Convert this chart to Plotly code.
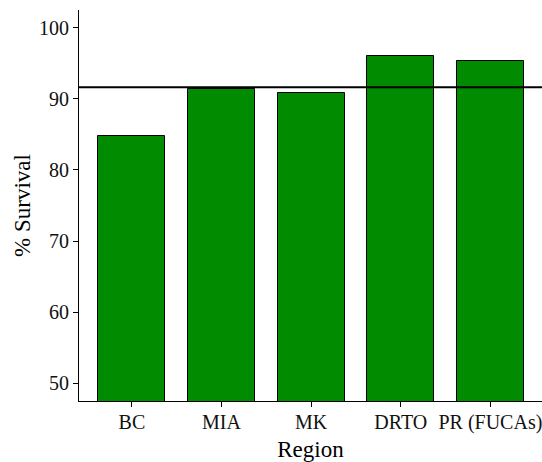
import plotly.graph_objects as go

# Survival by region
regions = ["BC", "MIA", "MK", "DRTO", "PR (FUCAs)"]
survival = [84.8, 91.4, 90.8, 96.0, 95.3]
overall_mean = 91.64
y_ticks = [50, 60, 70, 80, 90, 100]

SERIF = "Liberation Serif, Times New Roman, serif"

fig = go.Figure()
fig.add_trace(go.Bar(
    x=list(range(len(regions))),
    y=survival,
    width=0.75,
    marker=dict(color="#008B00", line=dict(color="black", width=1)),
    showlegend=False,
))

# overall mean reference line
fig.add_shape(type="line", xref="paper", x0=0, x1=1, yref="y",
              y0=overall_mean, y1=overall_mean,
              line=dict(color="black", width=2))

fig.update_layout(
    width=542, height=462,
    margin=dict(l=79, r=0, t=10, b=61),
    paper_bgcolor="white", plot_bgcolor="white",
    font=dict(family=SERIF, color="black"),
    bargap=0,
)
fig.update_xaxes(
    range=[-0.59, 4.576],
    tickmode="array", tickvals=list(range(len(regions))), ticktext=regions,
    showline=True, linecolor="black", linewidth=1,
    ticks="outside", ticklen=5, tickcolor="black",
    ticklabeloverflow="allow", ticklabelstandoff=-2,
    tickfont=dict(family=SERIF, size=20, color="#111"),
    title=dict(text="Region", font=dict(family=SERIF, size=23), standoff=8),
    showgrid=False, zeroline=False,
)
fig.update_yaxes(
    range=[47.5, 102.5],
    tickvals=y_ticks,
    showline=True, linecolor="black", linewidth=1,
    ticks="outside", ticklen=5, tickcolor="black",
    tickfont=dict(family=SERIF, size=20, color="#111"),
    title=dict(text="% Survival", font=dict(family=SERIF, size=23), standoff=1),
    showgrid=False, zeroline=False,
)

fig.write_html("out.html")
